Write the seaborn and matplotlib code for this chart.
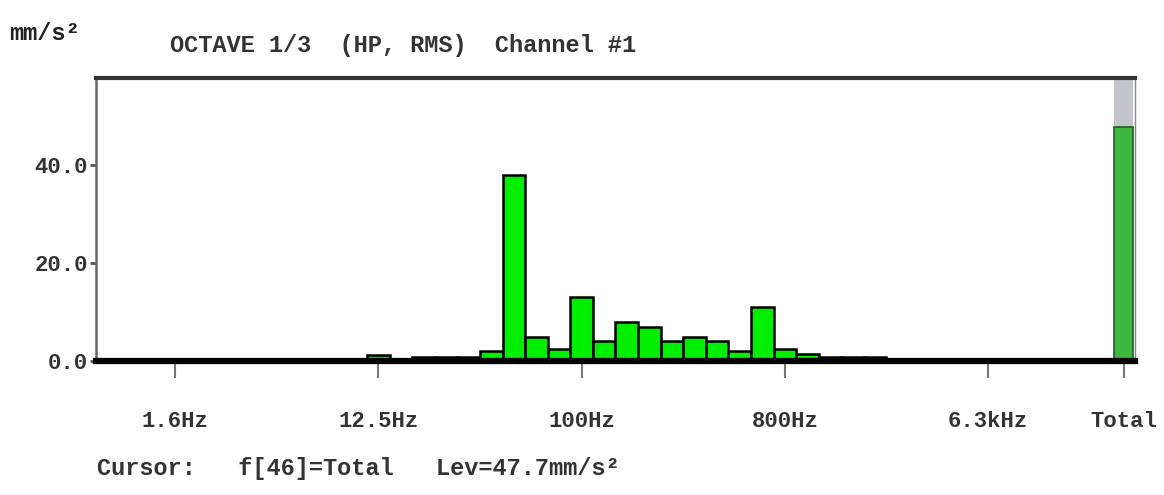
import matplotlib
matplotlib.use('Agg')
import matplotlib.pyplot as plt
import numpy as np
import pandas as pd
import seaborn as sns

# 1/3 octave bands, 0.8 Hz .. 20 kHz, then the overall level
bands = ['0.8', '1', '1.25', '1.6', '2', '2.5', '3.15', '4', '5', '6.3', '8', '10',
         '12.5', '16', '20', '25', '31.5', '40', '50', '63', '80', '100', '125', '160',
         '200', '250', '315', '400', '500', '630', '800', '1k', '1.25k', '1.6k', '2k',
         '2.5k', '3.15k', '4k', '5k', '6.3k', '8k', '10k', '12.5k', '16k', '20k']
levels = [0.3, 0.3, 0.3, 0.3, 0.3, 0.3, 0.3, 0.3, 0.3, 0.3, 0.3, 0.3,
          1.2, 0.3, 0.8, 0.8, 0.9, 2.0, 38.0, 5.0, 2.5, 13.0, 4.0, 8.0,
          7.0, 4.0, 5.0, 4.0, 2.0, 11.0, 2.5, 1.5, 0.9, 0.9, 0.8,
          0.3, 0.3, 0.3, 0.3, 0.3, 0.3, 0.3, 0.3, 0.3, 0.3]
total_level = 47.7
total_hold = 58.0

tick_bands = ['1.6', '12.5', '100', '800', '6.3k']
tick_labels = ['1.6Hz', '12.5Hz', '100Hz', '800Hz', '6.3kHz', 'Total']

mono = ['Liberation Mono', 'DejaVu Sans Mono']

sns.set_style('white')
plt.rcParams['font.family'] = mono

df = pd.DataFrame({'pos': np.arange(len(bands)), 'lev': levels})
pos_total = len(bands)

fig = plt.figure(figsize=(11.64, 4.95), dpi=100)
ax = fig.add_axes([0.0825, 0.2707, 0.8925, 0.5717])

sns.barplot(data=df, x='pos', y='lev', native_scale=True, width=1.0,
            color='#00ee00', saturation=1, edgecolor='black', linewidth=1.8, ax=ax)
# peak hold (grey) behind the overall bar
sns.barplot(x=[pos_total], y=[total_hold], native_scale=True, width=0.85,
            color='#c4c4cc', saturation=1, linewidth=0, ax=ax)
sns.barplot(x=[pos_total], y=[total_level], native_scale=True, width=0.85,
            color='#3fb83f', saturation=1, edgecolor='#1f5f1f', linewidth=1.2, ax=ax)

ax.set_xlim(-0.5, pos_total + 0.5)
ax.set_ylim(0, 57.8)
ax.set_xlabel('')
ax.set_ylabel('')

xt = [bands.index(b) for b in tick_bands] + [pos_total]
ax.set_xticks(xt)
ax.set_xticklabels(tick_labels, fontsize=16, fontweight='bold', color='#333333')
ax.set_yticks([0, 20, 40])
ax.set_yticklabels(['0.0', '20.0', '40.0'], fontsize=16, fontweight='bold', color='#333333')
ax.tick_params(axis='x', bottom=True, direction='out', length=12, width=1.5,
               color='#777777', pad=24)
ax.tick_params(axis='y', left=True, direction='out', length=4, width=2,
               color='#555555', pad=2)

for s in ['top', 'left', 'right', 'bottom']:
    ax.spines[s].set_visible(True)
ax.spines['top'].set_color('#333333')
ax.spines['top'].set_linewidth(3)
ax.spines['left'].set_color('#666666')
ax.spines['left'].set_linewidth(1.8)
ax.spines['right'].set_color('#888888')
ax.spines['right'].set_linewidth(1.0)
ax.spines['bottom'].set_color('black')
ax.spines['bottom'].set_linewidth(4.5)

fig.text(0.008, 0.92, 'mm/s²', fontsize=17, fontweight='bold', color='#222222')
fig.text(0.146, 0.895, 'OCTAVE 1/3  (HP, RMS)  Channel #1', fontsize=17,
         fontweight='bold', color='#333333')
fig.text(0.083, 0.04, 'Cursor:   f[46]=Total   Lev=47.7mm/s²', fontsize=17,
         fontweight='bold', color='#333333')

fig.savefig('out.png', dpi=100, facecolor='white')
